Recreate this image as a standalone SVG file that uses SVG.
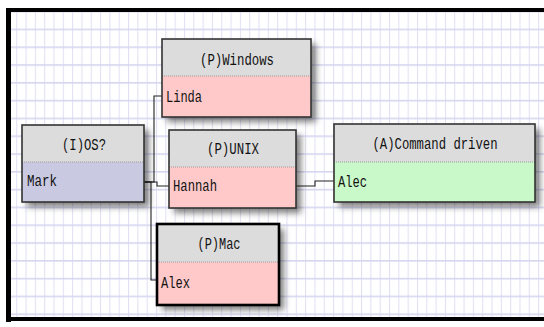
<svg xmlns="http://www.w3.org/2000/svg" width="544" height="327" viewBox="0 0 544 327">
<style>
.hdr{fill:#dcdcdc}
.sep{stroke:#9a9a9a;stroke-width:1;stroke-dasharray:1 1}
.box{fill:none;stroke:#333;stroke-width:1.6}
.sel{fill:none;stroke:#000;stroke-width:2.6}
.t{font-family:"Liberation Mono","DejaVu Sans Mono",monospace;font-size:16.5px;fill:#111}
.c{text-anchor:middle}
.conn{fill:none;stroke:#222;stroke-width:1.1}
</style>
<defs>
<pattern id="grid" patternUnits="userSpaceOnUse" x="16.2" y="28.6" width="9.32" height="17.8">
<rect x="0" y="0" width="9.32" height="17.8" fill="#ffffff"/>
<rect x="0" y="0" width="1" height="17.8" fill="#e0e0f4"/>
<rect x="0" y="0" width="9.32" height="1.6" fill="#d6d6f0"/>
</pattern>
<filter id="sh" x="-10%" y="-10%" width="130%" height="140%">
<feDropShadow dx="5" dy="5" stdDeviation="3" flood-color="#000" flood-opacity="0.5"/>
</filter>
</defs>
<rect x="0" y="0" width="544" height="327" fill="#ffffff"/>
<rect x="11" y="12" width="533" height="305" fill="url(#grid)"/>
<rect x="6" y="8" width="538" height="4" fill="#000"/>
<rect x="6" y="8" width="5" height="314" fill="#000"/>
<rect x="6" y="317" width="538" height="4" fill="#000"/>

<g id="connectors">
<polyline class="conn" points="144,182 154,182 154,96 162,96"/>
<polyline class="conn" points="144,182 157,182 157,186 169,186"/>
<polyline class="conn" points="144,182 151,182 151,280 157,280"/>
<polyline class="conn" points="296,186 315,186 315,181 334,181"/>
</g>

<g id="node-os">
<rect x="22" y="125" width="122" height="77" fill="#c9c9e1" filter="url(#sh)"/>
<rect class="hdr" x="22" y="125" width="122" height="37"/>
<line class="sep" x1="22" y1="162" x2="144" y2="162"/>
<rect class="box" x="22" y="125" width="122" height="77"/>
<text class="t c" x="84" y="150" textLength="44" lengthAdjust="spacingAndGlyphs">(I)OS?</text>
<text class="t" x="27" y="186" textLength="30" lengthAdjust="spacingAndGlyphs">Mark</text>
</g>

<g id="node-windows">
<rect x="162" y="39" width="149" height="78" fill="#ffc9c9" filter="url(#sh)"/>
<rect class="hdr" x="162" y="39" width="149" height="37"/>
<line class="sep" x1="162" y1="76" x2="311" y2="76"/>
<rect class="box" x="162" y="39" width="149" height="78"/>
<text class="t c" x="237" y="65" textLength="74" lengthAdjust="spacingAndGlyphs">(P)Windows</text>
<text class="t" x="166" y="102" textLength="36" lengthAdjust="spacingAndGlyphs">Linda</text>
</g>

<g id="node-unix">
<rect x="169" y="130" width="127" height="78" fill="#ffc9c9" filter="url(#sh)"/>
<rect class="hdr" x="169" y="130" width="127" height="37"/>
<line class="sep" x1="169" y1="167" x2="296" y2="167"/>
<rect class="box" x="169" y="130" width="127" height="78"/>
<text class="t c" x="233" y="154" textLength="52" lengthAdjust="spacingAndGlyphs">(P)UNIX</text>
<text class="t" x="173" y="191" textLength="44" lengthAdjust="spacingAndGlyphs">Hannah</text>
</g>

<g id="node-command">
<rect x="334" y="124" width="201" height="78" fill="#c9f9c9" filter="url(#sh)"/>
<rect class="hdr" x="334" y="124" width="201" height="38"/>
<line class="sep" x1="334" y1="162" x2="535" y2="162"/>
<rect class="box" x="334" y="124" width="201" height="78"/>
<text class="t c" x="435" y="149" textLength="125" lengthAdjust="spacingAndGlyphs">(A)Command driven</text>
<text class="t" x="338" y="187" textLength="29" lengthAdjust="spacingAndGlyphs">Alec</text>
</g>

<g id="node-mac">
<rect x="157" y="224" width="122" height="81" fill="#ffc9c9" filter="url(#sh)"/>
<rect class="hdr" x="157" y="224" width="122" height="38"/>
<line class="sep" x1="157" y1="262" x2="279" y2="262"/>
<rect class="sel" x="157" y="224" width="122" height="81"/>
<text class="t c" x="219" y="249" textLength="43" lengthAdjust="spacingAndGlyphs">(P)Mac</text>
<text class="t" x="161" y="288" textLength="29" lengthAdjust="spacingAndGlyphs">Alex</text>
</g>
</svg>
